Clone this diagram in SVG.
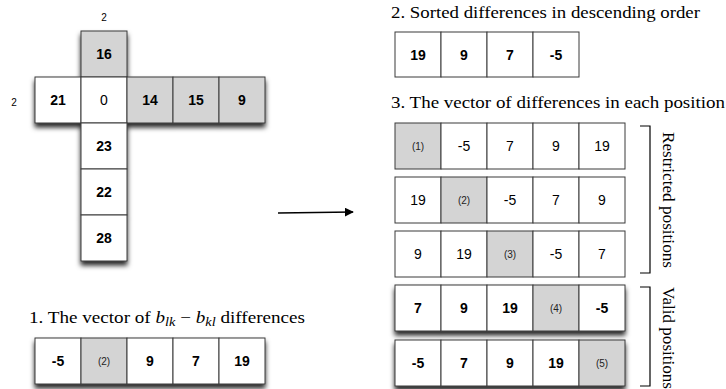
<svg xmlns="http://www.w3.org/2000/svg" width="726" height="389" viewBox="0 0 726 389">
  <defs>
    <filter id="shadow" x="-10%" y="-10%" width="120%" height="140%">
      <feDropShadow dx="0" dy="4" stdDeviation="2.6" flood-color="#000" flood-opacity="0.85"/>
    </filter>
    <marker id="arrow" viewBox="0 0 10 10" refX="9" refY="5" markerWidth="9" markerHeight="9" markerUnits="userSpaceOnUse" orient="auto">
      <path d="M0,0 L10,5 L0,10 z" fill="#000"/>
    </marker>
  </defs>
  <style>
    .c { fill: #ffffff; stroke: #3a3a3a; stroke-width: 1; }
    .g { fill: #d4d4d4; stroke: #3a3a3a; stroke-width: 1; }
    .n { font-family: "Liberation Sans", Arial, sans-serif; font-size: 14px; fill: #000; text-anchor: middle; dominant-baseline: central; }
    .b { font-weight: bold; }
    .s { font-size: 10px; fill: #222; }
    .lbl { font-family: "Liberation Sans", Arial, sans-serif; font-size: 10px; fill: #000; text-anchor: middle; }
    .h { font-family: "Liberation Serif", "Times New Roman", serif; font-size: 16px; fill: #000; }
    .br { fill: none; stroke: #000; stroke-width: 1.2; }
  </style>

  <!-- cross-shaped neighbourhood -->
  <g id="cross">
    <text class="lbl" x="104" y="21">2</text>
    <text class="lbl" x="14" y="106">2</text>
    <g filter="url(#shadow)">
      <rect class="g" x="81" y="31" width="46" height="46"/>
      <rect class="c" x="35" y="77" width="46" height="46"/>
      <rect class="c" x="81" y="77" width="46" height="46"/>
      <rect class="g" x="127" y="77" width="46" height="46"/>
      <rect class="g" x="173" y="77" width="46" height="46"/>
      <rect class="g" x="219" y="77" width="46" height="46"/>
      <rect class="c" x="81" y="123" width="46" height="46"/>
      <rect class="c" x="81" y="169" width="46" height="46"/>
      <rect class="c" x="81" y="215" width="46" height="46"/>
    </g>
    <text class="n b" x="104" y="54">16</text>
    <text class="n b" x="58" y="100">21</text>
    <text class="n" x="104" y="100">0</text>
    <text class="n b" x="150" y="100">14</text>
    <text class="n b" x="196" y="100">15</text>
    <text class="n b" x="242" y="100">9</text>
    <text class="n b" x="104" y="146">23</text>
    <text class="n b" x="104" y="192">22</text>
    <text class="n b" x="104" y="238">28</text>
  </g>

  <!-- step 1: vector of differences -->
  <g id="step1">
    <text class="h" x="29" y="323" textLength="276" lengthAdjust="spacingAndGlyphs">1. The vector of <tspan font-style="italic">b</tspan><tspan font-style="italic" font-size="12" dy="3">lk</tspan><tspan dy="-3"> − </tspan><tspan font-style="italic">b</tspan><tspan font-style="italic" font-size="12" dy="3">kl</tspan><tspan dy="-3"> differences</tspan></text>
    <g filter="url(#shadow)">
      <rect class="c" x="35" y="338" width="46" height="46"/>
      <rect class="g" x="81" y="338" width="46" height="46"/>
      <rect class="c" x="127" y="338" width="46" height="46"/>
      <rect class="c" x="173" y="338" width="46" height="46"/>
      <rect class="c" x="219" y="338" width="46" height="46"/>
    </g>
    <text class="n b" x="58" y="361">-5</text>
    <text class="n s" x="104" y="361">(2)</text>
    <text class="n b" x="150" y="361">9</text>
    <text class="n b" x="196" y="361">7</text>
    <text class="n b" x="242" y="361">19</text>
  </g>

  <!-- step 2: sorted differences -->
  <g id="step2">
    <text class="h" x="391" y="18" textLength="309" lengthAdjust="spacingAndGlyphs">2. Sorted differences in descending order</text>
    <rect class="c" x="395" y="32" width="46" height="45"/>
    <rect class="c" x="441" y="32" width="46" height="45"/>
    <rect class="c" x="487" y="32" width="46" height="45"/>
    <rect class="c" x="533" y="32" width="46" height="45"/>
    <text class="n b" x="418" y="54.5">19</text>
    <text class="n b" x="464" y="54.5">9</text>
    <text class="n b" x="510" y="54.5">7</text>
    <text class="n b" x="556" y="54.5">-5</text>
  </g>

  <!-- step 3: vectors for each position -->
  <g id="step3">
    <text class="h" x="391" y="108" textLength="334" lengthAdjust="spacingAndGlyphs">3. The vector of differences in each position</text>

    <g id="row1">
      <rect class="g" x="395" y="123" width="46" height="46"/>
      <rect class="c" x="441" y="123" width="46" height="46"/>
      <rect class="c" x="487" y="123" width="46" height="46"/>
      <rect class="c" x="533" y="123" width="46" height="46"/>
      <rect class="c" x="579" y="123" width="46" height="46"/>
      <text class="n s" x="418" y="146">(1)</text>
      <text class="n" x="464" y="146">-5</text>
      <text class="n" x="510" y="146">7</text>
      <text class="n" x="556" y="146">9</text>
      <text class="n" x="602" y="146">19</text>
    </g>
    <g id="row2">
      <rect class="c" x="395" y="177" width="46" height="46"/>
      <rect class="g" x="441" y="177" width="46" height="46"/>
      <rect class="c" x="487" y="177" width="46" height="46"/>
      <rect class="c" x="533" y="177" width="46" height="46"/>
      <rect class="c" x="579" y="177" width="46" height="46"/>
      <text class="n" x="418" y="200">19</text>
      <text class="n s" x="464" y="200">(2)</text>
      <text class="n" x="510" y="200">-5</text>
      <text class="n" x="556" y="200">7</text>
      <text class="n" x="602" y="200">9</text>
    </g>
    <g id="row3">
      <rect class="c" x="395" y="231" width="46" height="46"/>
      <rect class="c" x="441" y="231" width="46" height="46"/>
      <rect class="g" x="487" y="231" width="46" height="46"/>
      <rect class="c" x="533" y="231" width="46" height="46"/>
      <rect class="c" x="579" y="231" width="46" height="46"/>
      <text class="n" x="418" y="254">9</text>
      <text class="n" x="464" y="254">19</text>
      <text class="n s" x="510" y="254">(3)</text>
      <text class="n" x="556" y="254">-5</text>
      <text class="n" x="602" y="254">7</text>
    </g>
    <g id="row4">
      <g filter="url(#shadow)">
        <rect class="c" x="395" y="285" width="46" height="46"/>
        <rect class="c" x="441" y="285" width="46" height="46"/>
        <rect class="c" x="487" y="285" width="46" height="46"/>
        <rect class="g" x="533" y="285" width="46" height="46"/>
        <rect class="c" x="579" y="285" width="46" height="46"/>
      </g>
      <text class="n b" x="418" y="308">7</text>
      <text class="n b" x="464" y="308">9</text>
      <text class="n b" x="510" y="308">19</text>
      <text class="n s" x="556" y="308">(4)</text>
      <text class="n b" x="602" y="308">-5</text>
    </g>
    <g id="row5">
      <g filter="url(#shadow)">
        <rect class="c" x="395" y="340" width="46" height="46"/>
        <rect class="c" x="441" y="340" width="46" height="46"/>
        <rect class="c" x="487" y="340" width="46" height="46"/>
        <rect class="c" x="533" y="340" width="46" height="46"/>
        <rect class="g" x="579" y="340" width="46" height="46"/>
      </g>
      <text class="n b" x="418" y="363">-5</text>
      <text class="n b" x="464" y="363">7</text>
      <text class="n b" x="510" y="363">9</text>
      <text class="n b" x="556" y="363">19</text>
      <text class="n s" x="602" y="363">(5)</text>
    </g>

    <!-- brackets with vertical labels -->
    <g id="restricted">
      <path class="br" d="M640,126 H650 V273 H640"/>
      <text class="h" transform="translate(663,132) rotate(90)" textLength="136" lengthAdjust="spacingAndGlyphs">Restricted positions</text>
    </g>
    <g id="valid">
      <path class="br" d="M640,287 H650 V386 H640"/>
      <text class="h" transform="translate(663,287) rotate(90)" textLength="102" lengthAdjust="spacingAndGlyphs">Valid positions</text>
    </g>
  </g>

  <!-- connector -->
  <g id="connectors">
    <line x1="278" y1="213" x2="353" y2="212" stroke="#000" stroke-width="1.4" marker-end="url(#arrow)"/>
  </g>
</svg>
